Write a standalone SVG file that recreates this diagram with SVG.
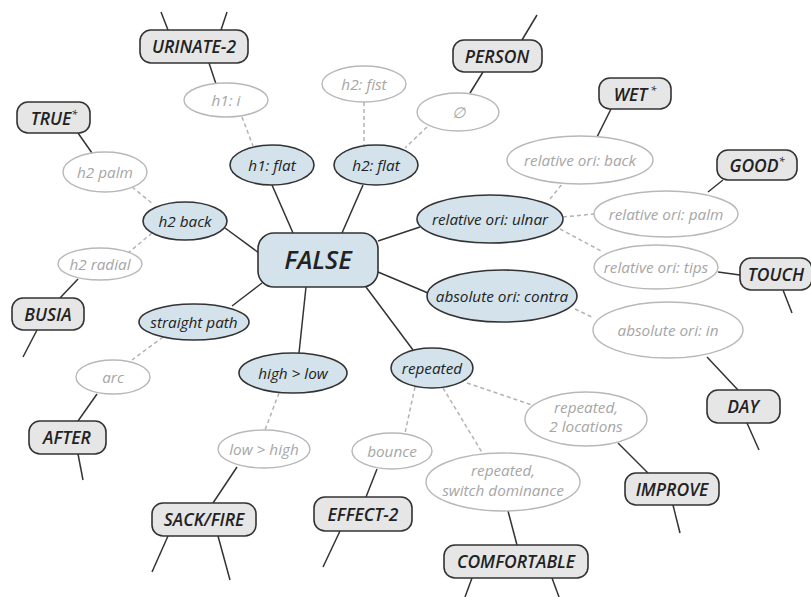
<svg xmlns="http://www.w3.org/2000/svg" width="811" height="597" viewBox="0 0 811 597">
  <style>
    .sign rect { fill: #e6e6e6; stroke: #333; stroke-width: 1.6; }
    .sign text { font-family: "Open Sans", "Noto Sans", sans-serif; font-style: italic; font-weight: 600; font-size: 17.5px; fill: #222; text-anchor: middle; }
    .feat ellipse { fill: #d3e2eb; stroke: #333; stroke-width: 1.6; }
    .feat text { font-family: "Open Sans", "Noto Sans", sans-serif; font-style: italic; font-size: 15.3px; fill: #222; text-anchor: middle; }
    .alt ellipse { fill: #fff; stroke: #b8b8b8; stroke-width: 1.4; }
    .alt text { font-family: "Open Sans", "Noto Sans", sans-serif; font-style: italic; font-size: 15.3px; fill: #a6a6a6; text-anchor: middle; }
    .solid line { stroke: #333; stroke-width: 1.5; }
    .dash line { stroke: #b3b3b3; stroke-width: 1.5; stroke-dasharray: 4 3; }
    .sup { font-size: 11px; font-weight: 400; }
  </style>
  <rect width="811" height="597" fill="#fff"/>

  <g id="connectors">
    <g class="solid">
      <line x1="161" y1="12" x2="168" y2="30"/>
      <line x1="227" y1="12" x2="221" y2="30"/>
      <line x1="209" y1="63" x2="216" y2="84"/>
      <line x1="78" y1="133" x2="92" y2="153"/>
      <line x1="78" y1="279" x2="60" y2="298"/>
      <line x1="37" y1="330" x2="23" y2="357"/>
      <line x1="272" y1="185" x2="293" y2="233"/>
      <line x1="363" y1="185" x2="342" y2="233"/>
      <line x1="225" y1="228" x2="259" y2="253"/>
      <line x1="378" y1="241" x2="420" y2="227"/>
      <line x1="378" y1="272" x2="428" y2="293"/>
      <line x1="262" y1="283" x2="232" y2="306"/>
      <line x1="306" y1="287" x2="299" y2="353"/>
      <line x1="366" y1="287" x2="413" y2="350"/>
      <line x1="537" y1="15" x2="522" y2="40"/>
      <line x1="483" y1="72" x2="470" y2="93"/>
      <line x1="611" y1="109" x2="597" y2="137"/>
      <line x1="723" y1="180" x2="708" y2="192"/>
      <line x1="718" y1="272" x2="740" y2="275"/>
      <line x1="783" y1="290" x2="792" y2="313"/>
      <line x1="707" y1="357" x2="738" y2="390"/>
      <line x1="747" y1="423" x2="759" y2="450"/>
      <line x1="97" y1="394" x2="78" y2="421"/>
      <line x1="78" y1="454" x2="83" y2="480"/>
      <line x1="237" y1="467" x2="213" y2="503"/>
      <line x1="168" y1="536" x2="152" y2="572"/>
      <line x1="218" y1="536" x2="230" y2="580"/>
      <line x1="377" y1="469" x2="366" y2="497"/>
      <line x1="340" y1="531" x2="323" y2="567"/>
      <line x1="618" y1="443" x2="648" y2="473"/>
      <line x1="673" y1="505" x2="680" y2="533"/>
      <line x1="508" y1="511" x2="517" y2="545"/>
      <line x1="472" y1="578" x2="465" y2="597"/>
      <line x1="552" y1="578" x2="559" y2="597"/>
    </g>
    <g class="dash">
      <line x1="242" y1="117" x2="253" y2="146"/>
      <line x1="364" y1="102" x2="364" y2="145"/>
      <line x1="427" y1="127" x2="405" y2="148"/>
      <line x1="132" y1="187" x2="153" y2="204"/>
      <line x1="152" y1="233" x2="128" y2="253"/>
      <line x1="550" y1="199" x2="563" y2="183"/>
      <line x1="563" y1="217" x2="594" y2="214"/>
      <line x1="560" y1="229" x2="603" y2="252"/>
      <line x1="575" y1="309" x2="594" y2="318"/>
      <line x1="163" y1="337" x2="132" y2="360"/>
      <line x1="279" y1="393" x2="265" y2="430"/>
      <line x1="415" y1="387" x2="405" y2="433"/>
      <line x1="443" y1="388" x2="483" y2="454"/>
      <line x1="467" y1="383" x2="532" y2="405"/>
    </g>
  </g>

  <!-- central sign -->
  <g id="false" class="sign">
    <rect x="258" y="233" width="120" height="54" rx="16" style="fill:#d3e2eb"/>
    <text x="318" y="269" style="font-size:25.5px">FALSE</text>
  </g>

  <!-- features of FALSE -->
  <g id="h1-flat" class="feat"><ellipse cx="272" cy="165" rx="42" ry="20"/><text x="272" y="170.5">h1: flat</text></g>
  <g id="h2-flat" class="feat"><ellipse cx="376" cy="165" rx="42" ry="20"/><text x="376" y="170.5">h2: flat</text></g>
  <g id="h2-back" class="feat"><ellipse cx="185" cy="221" rx="42" ry="19"/><text x="185" y="226.5">h2 back</text></g>
  <g id="rel-ulnar" class="feat"><ellipse cx="490" cy="219" rx="73" ry="24"/><text x="490" y="224.5">relative ori: ulnar</text></g>
  <g id="abs-contra" class="feat"><ellipse cx="502" cy="296" rx="75" ry="26"/><text x="502" y="302">absolute ori: contra</text></g>
  <g id="straight-path" class="feat"><ellipse cx="194" cy="322" rx="55" ry="18"/><text x="194" y="327.5">straight path</text></g>
  <g id="high-low" class="feat"><ellipse cx="293" cy="373" rx="54" ry="20"/><text x="293" y="378.5">high &gt; low</text></g>
  <g id="repeated" class="feat"><ellipse cx="432" cy="368" rx="41" ry="20"/><text x="432" y="373.5">repeated</text></g>

  <!-- alternative values -->
  <g id="h1-i" class="alt"><ellipse cx="226" cy="100" rx="42" ry="17"/><text x="226" y="105.5">h1: i</text></g>
  <g id="h2-fist" class="alt"><ellipse cx="364" cy="84" rx="42" ry="18"/><text x="364" y="89.5">h2: fist</text></g>
  <g id="empty" class="alt"><ellipse cx="458" cy="112" rx="41" ry="19"/><text x="458" y="117.5">∅</text></g>
  <g id="h2-palm" class="alt"><ellipse cx="105" cy="172" rx="42" ry="20"/><text x="105" y="177.5">h2 palm</text></g>
  <g id="h2-radial" class="alt"><ellipse cx="100" cy="264" rx="42" ry="16"/><text x="100" y="269.5">h2 radial</text></g>
  <g id="rel-back" class="alt"><ellipse cx="580" cy="160" rx="73" ry="24"/><text x="580" y="165.5">relative ori: back</text></g>
  <g id="rel-palm" class="alt"><ellipse cx="666" cy="214" rx="72" ry="23"/><text x="666" y="219.5">relative ori: palm</text></g>
  <g id="rel-tips" class="alt"><ellipse cx="656" cy="267" rx="62" ry="22"/><text x="656" y="272.5">relative ori: tips</text></g>
  <g id="abs-in" class="alt"><ellipse cx="668" cy="330" rx="75" ry="28"/><text x="668" y="335.5">absolute ori: in</text></g>
  <g id="arc" class="alt"><ellipse cx="113" cy="377" rx="37" ry="17"/><text x="113" y="382.5">arc</text></g>
  <g id="low-high" class="alt"><ellipse cx="264" cy="449" rx="46" ry="19"/><text x="264" y="454.5">low &gt; high</text></g>
  <g id="bounce" class="alt"><ellipse cx="392" cy="451" rx="40" ry="18"/><text x="392" y="456.5">bounce</text></g>
  <g id="rep-2loc" class="alt"><ellipse cx="586" cy="419" rx="61" ry="27"/><text x="586" y="413">repeated,</text><text x="586" y="431.5">2 locations</text></g>
  <g id="rep-switch" class="alt"><ellipse cx="503" cy="482" rx="77" ry="29"/><text x="503" y="476">repeated,</text><text x="503" y="496">switch dominance</text></g>

  <!-- neighbouring signs -->
  <g id="urinate-2" class="sign"><rect x="140" y="30" width="108" height="33" rx="11"/><text x="194" y="53">URINATE-2</text></g>
  <g id="person" class="sign"><rect x="453" y="40" width="89" height="32" rx="11"/><text x="497" y="62.5">PERSON</text></g>
  <g id="wet" class="sign"><rect x="599" y="78" width="72" height="31" rx="11"/><text x="635" y="100.5">WET<tspan class="sup" dy="-7"> *</tspan></text></g>
  <g id="true" class="sign"><rect x="17" y="102" width="73" height="31" rx="11"/><text x="54" y="124.5">TRUE<tspan class="sup" dy="-7">*</tspan></text></g>
  <g id="good" class="sign"><rect x="717" y="150" width="80" height="30" rx="11"/><text x="757" y="171.5">GOOD<tspan class="sup" dy="-7">*</tspan></text></g>
  <g id="touch" class="sign"><rect x="740" y="258" width="72" height="32" rx="11"/><text x="776" y="280.5">TOUCH</text></g>
  <g id="busia" class="sign"><rect x="12" y="298" width="72" height="32" rx="11"/><text x="48" y="320.5">BUSIA</text></g>
  <g id="day" class="sign"><rect x="707" y="390" width="73" height="33" rx="11"/><text x="743" y="413">DAY</text></g>
  <g id="after" class="sign"><rect x="29" y="421" width="77" height="33" rx="11"/><text x="67" y="444">AFTER</text></g>
  <g id="improve" class="sign"><rect x="625" y="473" width="94" height="32" rx="11"/><text x="672" y="495.5">IMPROVE</text></g>
  <g id="sack-fire" class="sign"><rect x="152" y="503" width="104" height="33" rx="11"/><text x="204" y="526">SACK/FIRE</text></g>
  <g id="effect-2" class="sign"><rect x="314" y="497" width="98" height="34" rx="11"/><text x="363" y="520.5">EFFECT-2</text></g>
  <g id="comfortable" class="sign"><rect x="444" y="545" width="144" height="33" rx="11"/><text x="516" y="568">COMFORTABLE</text></g>
</svg>
